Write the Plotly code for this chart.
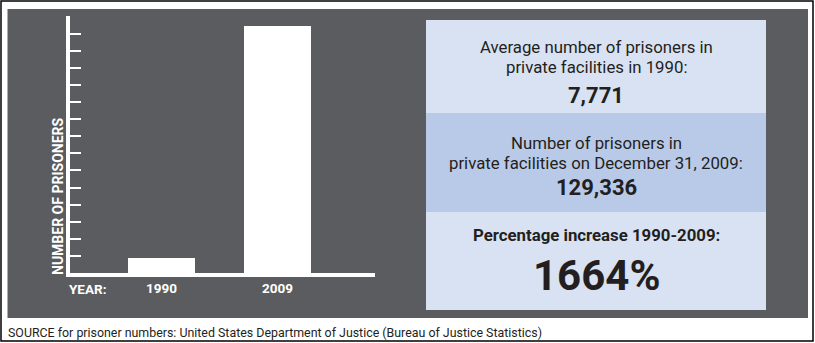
import plotly.graph_objects as go

# ---- data ----
years = ["1990", "2009"]
prisoners = [7771, 129336]
pct_increase_label = "1664%"
y_tick_step = 8950
n_y_ticks = 14
source_text = "SOURCE for prisoner numbers: United States Department of Justice (Bureau of Justice Statistics)"

W, H = 815, 343
DARK = "#5b5c60"
LIGHT = "#d9e2f3"
MID = "#b9cae8"
TXT = "#231f20"
FONT = "Roboto, 'DejaVu Sans', sans-serif"
NARROW = "'Liberation Sans Narrow', Roboto, sans-serif"


def px(x):
    return x / W


def py(y):
    return 1 - y / H


fig = go.Figure()
fig.add_trace(go.Bar(
    x=years, y=prisoners, marker=dict(color="white", line=dict(width=0)),
    width=0.578, hoverinfo="skip", showlegend=False,
))

shapes = [
    dict(type="rect", xref="paper", yref="paper", x0=px(1), x1=px(813), y0=py(341), y1=py(1),
         line=dict(color="black", width=1.5), fillcolor="white", layer="below"),
    dict(type="rect", xref="paper", yref="paper", x0=px(7.5), x1=px(808), y0=py(318), y1=py(9),
         line=dict(width=0), fillcolor=DARK, layer="below"),
    dict(type="rect", xref="paper", yref="paper", x0=px(426), x1=px(766), y0=py(113), y1=py(20),
         line=dict(width=0), fillcolor=LIGHT, layer="below"),
    dict(type="rect", xref="paper", yref="paper", x0=px(426), x1=px(766), y0=py(212), y1=py(113),
         line=dict(width=0), fillcolor=MID, layer="below"),
    dict(type="rect", xref="paper", yref="paper", x0=px(426), x1=px(766), y0=py(310), y1=py(212),
         line=dict(width=0), fillcolor=LIGHT, layer="below"),
]


def ann(text, x, y, size, color=TXT, bold=False, xanchor="center", font=FONT, **kw):
    t = f"<b>{text}</b>" if bold else text
    return dict(text=t, x=px(x), y=py(y), xref="paper", yref="paper", showarrow=False,
                xanchor=xanchor, yanchor=kw.pop("yanchor", "middle"),
                font=dict(family=font, size=size, color=color), **kw)


annotations = [
    ann("Average number of prisoners in", 596, 47, 16.8),
    ann("private facilities in 1990:", 596, 67, 16.8),
    ann(f"{prisoners[0]:,}", 596, 95, 22, bold=True),
    ann("Number of prisoners in", 596, 143, 16.8),
    ann("private facilities on December 31, 2009:", 596, 163, 16.8),
    ann(f"{prisoners[1]:,}", 596, 187, 22, bold=True),
    ann("Percentage increase 1990-2009:", 596, 235, 16.8, bold=True),
    ann(pct_increase_label, 596, 275, 42, bold=True),
    ann("YEAR:", 67, 289, 13.5, color="white", bold=True, xanchor="left"),
    ann("NUMBER OF PRISONERS", 58, 277, 14, color="white", bold=True, textangle=-90,
        yanchor="bottom"),
    ann(source_text, 6, 332.5, 12.4, xanchor="left", font=NARROW),
]

ymax = max(prisoners) * 1.04
fig.update_layout(
    width=W, height=H, margin=dict(l=0, r=0, t=0, b=0),
    paper_bgcolor="white", plot_bgcolor="rgba(0,0,0,0)",
    shapes=shapes, annotations=annotations, bargap=0,
    xaxis=dict(domain=[px(70), px(375)], range=[-0.789, 1.84], type="category",
               showline=True, linecolor="white", linewidth=4, showgrid=False,
               zeroline=False, ticks="", tickfont=dict(family=FONT, size=13.5, color="white"),
               tickprefix="<b>", ticksuffix="</b>", fixedrange=True),
    yaxis=dict(domain=[py(273), py(16)], range=[0, ymax],
               showline=True, linecolor="white", linewidth=3.5, showgrid=False,
               zeroline=False, ticks="inside", ticklen=11, tickwidth=2, tickcolor="white",
               tickvals=[y_tick_step * k for k in range(1, n_y_ticks + 1)],
               showticklabels=False, fixedrange=True),
)

fig.write_html("out.html", config={"displayModeBar": False})
